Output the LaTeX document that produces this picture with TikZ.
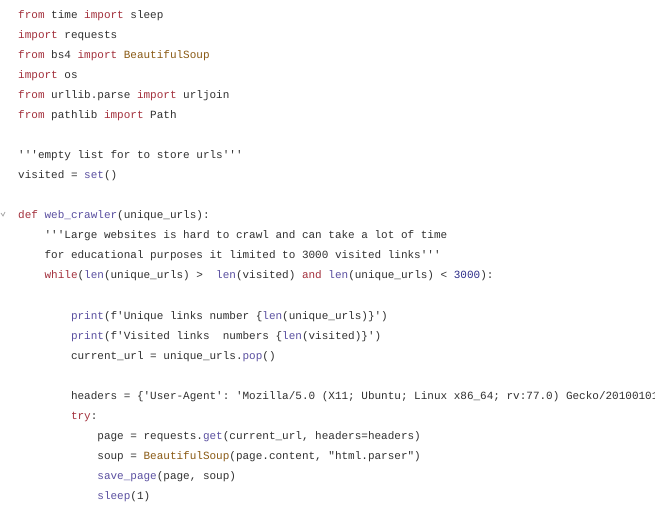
\documentclass[tikz,border=0pt]{standalone}
\usepackage{fontspec}
\setmonofont{Liberation Mono}
\definecolor{kwc}{HTML}{A3303C}
\definecolor{fnc}{HTML}{5A4FA0}
\definecolor{clc}{HTML}{8A5A14}
\definecolor{txc}{HTML}{303030}
\definecolor{nmc}{HTML}{2E2E8A}
\newcommand{\kw}[1]{\textcolor{kwc}{#1}}
\newcommand{\fn}[1]{\textcolor{fnc}{#1}}
\newcommand{\cl}[1]{\textcolor{clc}{#1}}
\newcommand{\nm}[1]{\textcolor{nmc}{#1}}
\tikzset{codeline/.style={anchor=base west,inner sep=0pt,font=\fontsize{11}{13}\ttfamily,text=txc}}
\begin{document}
\begin{tikzpicture}[x=1pt,y=-1pt]
\fill[white] (0,0) rectangle (655,510);
\useasboundingbox (0,0) rectangle (655,510);
\clip (0,0) rectangle (655,510);
\node[codeline] (l1) at (18,19) {\kw{from} time \kw{import} sleep};
\node[codeline] (l2) at (18,39) {\kw{import} requests};
\node[codeline] (l3) at (18,59) {\kw{from} bs4 \kw{import} \cl{BeautifulSoup}};
\node[codeline] (l4) at (18,79) {\kw{import} os};
\node[codeline] (l5) at (18,99) {\kw{from} urllib.parse \kw{import} urljoin};
\node[codeline] (l6) at (18,119) {\kw{from} pathlib \kw{import} Path};
\node[codeline] (l7) at (18,159) {'''empty list for to store urls'''};
\node[codeline] (l8) at (18,179) {visited = \fn{set}()};
\node[codeline] (l9) at (18,219) {\kw{def} \fn{web\_crawler}(unique\_urls):};
\node[codeline] (l10) at (44.4,239) {'''Large websites is hard to crawl and can take a lot of time};
\node[codeline] (l11) at (44.4,259) {for educational purposes it limited to 3000 visited links'''};
\node[codeline] (l12) at (44.4,279) {\kw{while}(\fn{len}(unique\_urls) >\ \ \fn{len}(visited) \kw{and} \fn{len}(unique\_urls) < \nm{3000}):};
\node[codeline] (l13) at (70.8,319) {\fn{print}(f'Unique links number \{\fn{len}(unique\_urls)\}')};
\node[codeline] (l14) at (70.8,339) {\fn{print}(f'Visited links\ \ numbers \{\fn{len}(visited)\}')};
\node[codeline] (l15) at (70.8,359) {current\_url = unique\_urls.\fn{pop}()};
\node[codeline] (l16) at (70.8,399) {headers = \{'User-Agent': 'Mozilla/5.0 (X11; Ubuntu; Linux x86\_64; rv:77.0) Gecko/20100101 Firefox/77.0'\}};
\node[codeline] (l17) at (70.8,419) {\kw{try}:};
\node[codeline] (l18) at (97.2,439) {page = requests.\fn{get}(current\_url, headers=headers)};
\node[codeline] (l19) at (97.2,459) {soup = \cl{BeautifulSoup}(page.content, "html.parser")};
\node[codeline] (l20) at (97.2,479) {\fn{save\_page}(page, soup)};
\node[codeline] (l21) at (97.2,499) {\fn{sleep}(1)};
\draw[gray!70,line width=0.8pt] (1,213) -- (3,216) -- (5,212);
\end{tikzpicture}
\end{document}
